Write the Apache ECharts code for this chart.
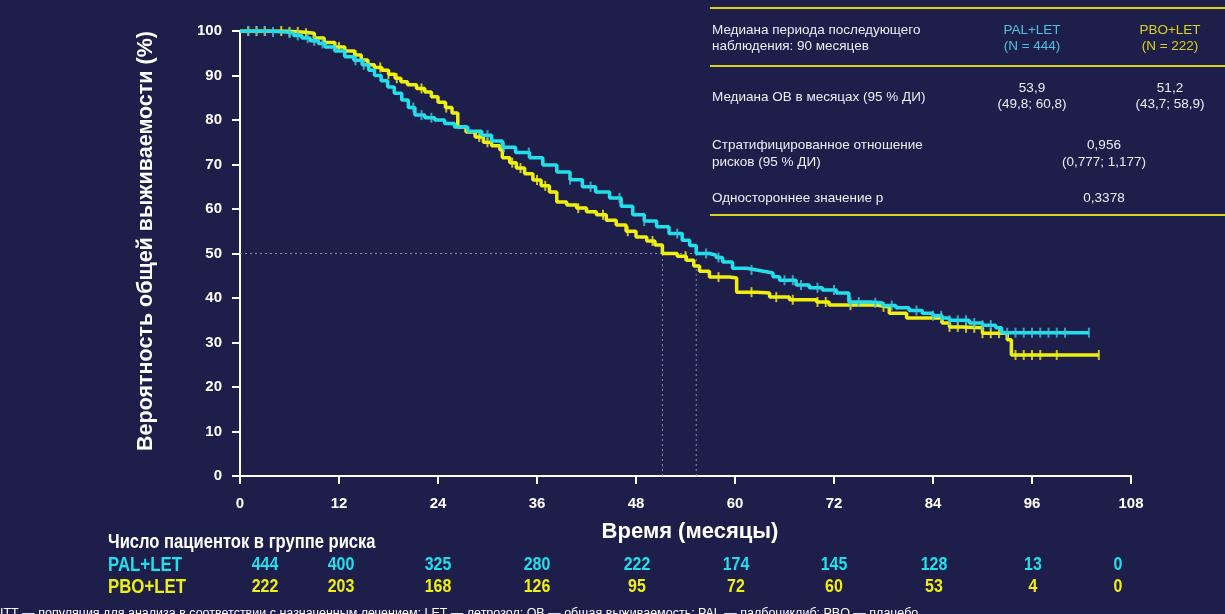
<!DOCTYPE html>
<html><head><meta charset="utf-8">
<script src="https://cdn.jsdelivr.net/npm/echarts@6/dist/echarts.min.js"></script>
<style>html,body{margin:0;padding:0;background:#1e1e4a;}#c{width:1225px;height:614px;}</style>
</head><body><div id="c"></div>
<script>
// ---- data ----
const xTicks = [0, 12, 24, 36, 48, 60, 72, 84, 96, 108];
const yTicks = [0, 10, 20, 30, 40, 50, 60, 70, 80, 90, 100];
const palTime = [0,2,3.5,5.5,6.5,7.5,8.5,9.5,10.3,11.5,12.7,13.8,14.8,15.6,16.3,17.1,17.9,18.7,19.6,20.4,21.2,22.4,23.6,24.8,26,27.6,29.3,30.5,31.8,33.4,35.1,36.7,38.4,40,41.5,43.1,44.8,46.2,47.6,49,50.5,52,53.6,54.5,55.3,56.9,57.7,58.5,59.7,61.4,62.6,63.8,64.6,65.4,67.4,69,70.6,72.3,73.8,76.3,77.9,79.5,81.1,82.7,84,85.1,86,88.4,90,91.6,92.3,102.9];
const palSurv = [100,100,99.8,99.5,99,98.4,97.8,97.2,96.4,95.5,94.2,93.4,92.4,91.2,90,88.8,87.4,86,84.5,82.8,81.1,80.5,80,79.2,78.4,77.5,76.6,75.3,73.9,72.7,71.5,69.9,68.3,66.6,65,63.8,62.5,60.6,58.7,57.3,56,54.5,53,51.8,50,49.6,49.1,48.1,46.7,46.3,45.9,45.6,44.8,44,42.9,42.3,41.8,41.1,39.1,38.9,38.3,37.8,37.2,36.6,36,35.5,35,34.4,33.9,33.3,32.2,32.2];
const pboTime = [0,4,5.4,7.5,9,10.2,11.5,12.7,13.9,14.7,15.5,16.3,17.2,18,18.8,19.5,20.3,21.4,22.4,23.2,24,24.9,25.7,26.4,27.4,28.5,29.5,30.5,31.5,31.8,32.7,33.5,34.5,35.5,36.5,37.5,38.4,39.6,40.8,42,43.2,44.4,45.6,46.8,48,49.3,50.3,51.2,53,54.1,55,55.7,56.9,59.3,60.2,62.6,64.2,66.6,69.9,71.4,77.1,78.7,80.8,85.1,86,87.5,90,93,93.5,104.1];
const pboSurv = [100,100,99.8,99.5,98.4,97.4,96.4,95.5,94.6,93.5,92.4,91.8,91.2,90.3,89.4,88.6,87.9,87.1,86.3,85.2,84,82.8,81.6,78.4,77.3,76.2,75,74.2,73.3,71.5,70.4,69.2,67.9,66.5,65.2,63.8,61.6,60.9,60.2,59.4,58.7,57.5,56.4,55,53.7,52.8,51.9,50,49.4,48.5,47.2,46,44.7,44.5,41.3,41.1,40.2,39.6,39.1,38.4,38,36.6,35.5,34.4,33.5,33.3,32.1,30.6,27.2,27.2];
const palCensor = [1,2,3,4,6,7,8.2,9,10,14,15,21,22,23.2,30,32,35,40,42.5,46,49,53,56.5,58,62,66,67,68,70,72,74,75,77,79,82,84,85,86,87,88,89,90,91,93,94,95,96,97,98,99,100,102.9];
const pboCensor = [1,2,3,5,6,7,8,9,12,14,17,18,19,22,25,29,30,33,34,36,37,41,44,47,50,54,58,62,65,67,70,71,74,78,85,86,87,88,89,90,91,92,94,95,96,97,99,104.1];
const medianTimes = [51.2, 55.3];
const medianSurv = 50;
const groups = ['PAL+LET', 'PBO+LET'];
const riskPAL = [444, 400, 325, 280, 222, 174, 145, 128, 13, 0];
const riskPBO = [222, 203, 168, 126, 95, 72, 60, 53, 4, 0];

const CYAN = '#20e0ee', YELLOW = '#f0f010', BG = '#1e1e4a', WHITE = '#ffffff';

function zip(t, s) { return t.map((v, i) => [v, s[i]]); }
function stepAt(t, s, x) { let v = s[0]; for (let i = 0; i < t.length; i++) { if (t[i] <= x) v = s[i]; } return v; }
function censorPts(c, t, s) { return c.map(x => [x, stepAt(t, s, x)]); }

const chart = echarts.init(document.getElementById('c'));
const tickFont = {color: WHITE, fontWeight: 'bold', fontSize: 15, fontFamily: 'Liberation Sans'};
chart.setOption({
  backgroundColor: BG,
  animation: false,
  grid: {left: 240, right: 94, top: 31, bottom: 138},
  xAxis: {type: 'value', min: 0, max: 108, interval: 12,
    axisLine: {show: true, lineStyle: {color: WHITE, width: 2}},
    axisTick: {show: true, length: 8, lineStyle: {color: WHITE, width: 2}},
    axisLabel: Object.assign({margin: 20}, tickFont),
    splitLine: {show: false}},
  yAxis: {type: 'value', min: 0, max: 100, interval: 10,
    axisLine: {show: true, lineStyle: {color: WHITE, width: 2}},
    axisTick: {show: true, length: 8, lineStyle: {color: WHITE, width: 2}},
    axisLabel: Object.assign({margin: 18}, tickFont),
    splitLine: {show: false}},
  series: [
    {type: 'line', data: [[0, medianSurv], [medianTimes[1], medianSurv]], symbol: 'none', silent: true,
      lineStyle: {color: '#8a8ab0', width: 1, type: [2, 3]}, z: 1},
    {type: 'line', data: [[medianTimes[0], 0], [medianTimes[0], medianSurv]], symbol: 'none', silent: true,
      lineStyle: {color: '#8a8ab0', width: 1, type: [2, 3]}, z: 1},
    {type: 'line', data: [[medianTimes[1], 0], [medianTimes[1], medianSurv]], symbol: 'none', silent: true,
      lineStyle: {color: '#8a8ab0', width: 1, type: [2, 3]}, z: 1},
    {name: groups[1], type: 'line', step: 'end', data: zip(pboTime, pboSurv), symbol: 'none',
      lineStyle: {color: YELLOW, width: 3.5}, z: 2},
    {name: groups[1] + ' censor', type: 'scatter', data: censorPts(pboCensor, pboTime, pboSurv),
      symbol: 'rect', symbolSize: [2, 10], itemStyle: {color: YELLOW}, z: 3},
    {name: groups[0], type: 'line', step: 'end', data: zip(palTime, palSurv), symbol: 'none',
      lineStyle: {color: CYAN, width: 3.5}, z: 4},
    {name: groups[0] + ' censor', type: 'scatter', data: censorPts(palCensor, palTime, palSurv),
      symbol: 'rect', symbolSize: [2, 10], itemStyle: {color: '#3cc6dc'}, z: 5}
  ]
});

// ---- annotations ----
const g = [];
const F = 'Liberation Sans';
function txt(text, x, y, opt) {
  opt = opt || {};
  g.push({type: 'text', x: x, y: y, rotation: opt.rot || 0, scaleX: opt.sx || 1, originX: 0, originY: 0,
    style: {text: text, fill: opt.fill || '#ececf4', font: (opt.weight || 'normal') + ' ' + (opt.size || 13.5) + 'px "' + F + '"',
      textAlign: opt.align || 'left', textVerticalAlign: 'middle'}, z: 10});
}
function hline(x1, x2, y, color) {
  g.push({type: 'line', shape: {x1: x1, y1: y, x2: x2, y2: y}, style: {stroke: color, lineWidth: 2}, z: 10});
}
// axis names
txt('Вероятность общей выживаемости (%)', 146, 241, {rot: Math.PI / 2, align: 'center', size: 21.5, weight: 'bold', fill: WHITE});
txt('Время (месяцы)', 690, 532, {align: 'center', size: 22, weight: 'bold', fill: WHITE});
// stats table
const TY = '#d8d21e', TC = '#4cc3dc';
hline(710, 1225, 8, TY); hline(710, 1225, 66, TY); hline(710, 1225, 215, TY);
txt('Медиана периода последующего', 712, 30);
txt('наблюдения: 90 месяцев', 712, 46);
txt(groups[0], 1032, 30, {align: 'center', fill: TC});
txt('(N = 444)', 1032, 46, {align: 'center', fill: TC});
txt(groups[1], 1170, 30, {align: 'center', fill: TY});
txt('(N = 222)', 1170, 46, {align: 'center', fill: TY});
txt('Медиана ОВ в месяцах (95 % ДИ)', 712, 97);
txt('53,9', 1032, 88, {align: 'center'});
txt('(49,8; 60,8)', 1032, 104, {align: 'center'});
txt('51,2', 1170, 88, {align: 'center'});
txt('(43,7; 58,9)', 1170, 104, {align: 'center'});
txt('Стратифицированное отношение', 712, 145);
txt('рисков (95 % ДИ)', 712, 162);
txt('0,956', 1104, 145, {align: 'center'});
txt('(0,777; 1,177)', 1104, 162, {align: 'center'});
txt('Одностороннее значение р', 712, 198);
txt('0,3378', 1104, 198, {align: 'center'});
// risk table
txt('Число пациенток в группе риска', 108, 543, {size: 19.5, weight: 'bold', fill: WHITE, sx: 0.85});
txt(groups[0], 108, 565, {size: 20, weight: 'bold', fill: CYAN, sx: 0.84});
txt(groups[1], 108, 587, {size: 20, weight: 'bold', fill: YELLOW, sx: 0.84});
const adj = [25, 2, 0, 0, 1, 1, 0, 1, 1, -13];
xTicks.forEach((m, i) => {
  const px = chart.convertToPixel({xAxisIndex: 0}, m) + adj[i];
  txt(String(riskPAL[i]), px, 565, {size: 19, weight: 'bold', fill: CYAN, sx: 0.84, align: 'center'});
  txt(String(riskPBO[i]), px, 587, {size: 19, weight: 'bold', fill: YELLOW, sx: 0.84, align: 'center'});
});
txt('ITT — популяция для анализа в соответствии с назначенным лечением; LET — летрозол; ОВ — общая выживаемость; PAL — палбоциклиб; PBO — плацебо.', 0, 614, {size: 12.5, fill: WHITE});
chart.setOption({graphic: g});
</script></body></html>
